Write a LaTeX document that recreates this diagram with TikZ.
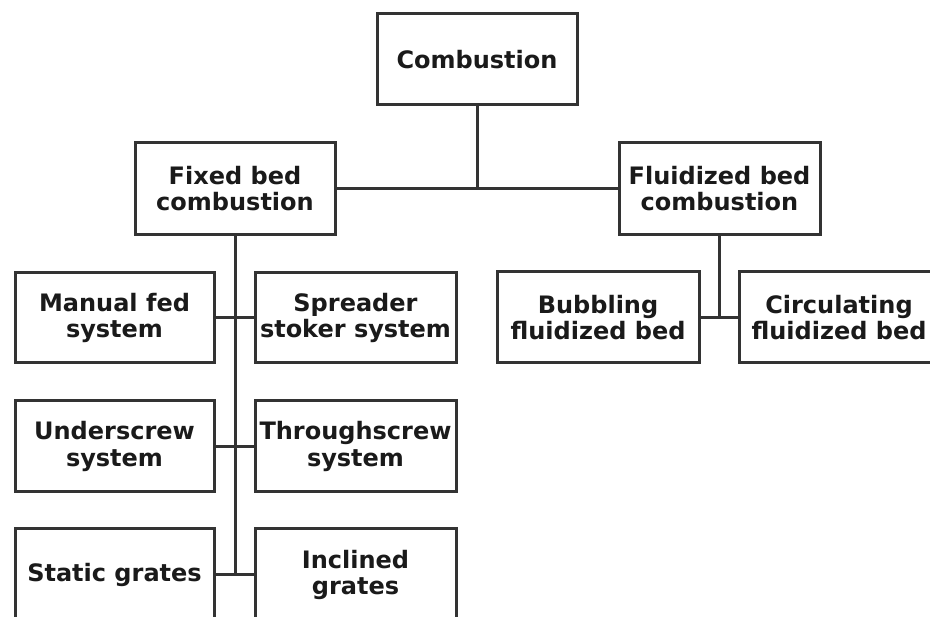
\documentclass[tikz,border=0pt]{standalone}
\usepackage{fontspec}
\setmainfont{DejaVu Sans}
\begin{document}
\begin{tikzpicture}[x=1pt,y=-1pt,
  box/.style={draw=linegray, line width=3pt, fill=white, align=center,
    inner sep=0pt, text=textdark,
    font=\fontsize{24}{26.5}\selectfont\bfseries},
  link/.style={draw=linegray, line width=3pt}]
\definecolor{linegray}{HTML}{333333}
\definecolor{textdark}{HTML}{1A1A1A}
\useasboundingbox (0,0) rectangle (930,617);
\clip (0,0) rectangle (930,617);
\fill[white] (0,0) rectangle (930,617);

% top level
\node[box, minimum width=200pt, minimum height=91pt] (comb) at (477,59.5) {Combustion};

% second level
\node[box, minimum width=200pt, minimum height=92pt] (fixed) at (235,188.5) {Fixed bed\\combustion};
\node[box, minimum width=201pt, minimum height=92pt] (fluid) at (719.5,188.5) {Fluidized bed\\combustion};

% fixed bed branches
\node[box, minimum width=199pt, minimum height=90pt] (manual) at (114.5,318) {Manual fed\\system};
\node[box, minimum width=201pt, minimum height=90pt] (spreader) at (355.5,318) {Spreader\\stoker system};
\node[box, minimum width=199pt, minimum height=91pt] (under) at (114.5,446.5) {Underscrew\\system};
\node[box, minimum width=201pt, minimum height=91pt] (through) at (355.5,446.5) {Throughscrew\\system};
\node[box, minimum width=199pt, minimum height=92pt] (static) at (114.5,575) {Static grates};
\node[box, minimum width=201pt, minimum height=92pt] (incl) at (355.5,575) {Inclined\\grates};

% fluidized bed branches
\node[box, minimum width=202pt, minimum height=91pt] (bubb) at (598,317.5) {Bubbling\\fluidized bed};
\node[box, minimum width=200pt, minimum height=91pt] (circ) at (839,317.5) {Circulating\\fluidized bed};

% connectors
\draw[link] (comb.south) -- (comb.south |- fixed.east);
\draw[link] (fixed.east) -- (fluid.west);
\draw[link] (fixed.south) -- (fixed.south |- static.east);
\draw[link] (manual.east) -- (spreader.west);
\draw[link] (under.east) -- (through.west);
\draw[link] (static.east) -- (incl.west);
\draw[link] (fluid.south) -- (fluid.south |- bubb.east);
\draw[link] (bubb.east) -- (circ.west);
\end{tikzpicture}
\end{document}
